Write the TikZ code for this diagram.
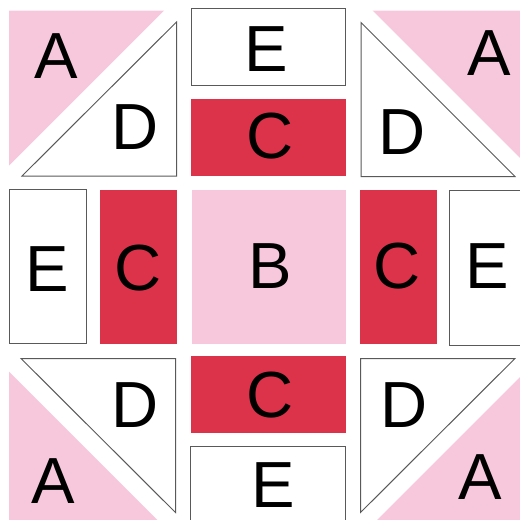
\documentclass[tikz,border=0pt]{standalone}
\usepackage{fontspec}
\setmainfont{Liberation Sans}
\usepackage{tikz}
\definecolor{quiltpink}{RGB}{247,200,220}
\definecolor{quiltred}{RGB}{220,50,74}

\begin{document}
\begin{tikzpicture}[x=0.5pt,y=-0.5pt,font=\fontsize{32.6}{36}\selectfont,
    lbl/.style={inner sep=0pt,text height=23.4pt,text depth=0pt},
    piece/.style={draw=black!65,line width=0.5pt,fill=white}]
  \clip (0,0) rectangle (520,520);
  % A: pink corner triangles
  \fill[quiltpink] (9,10.5) -- (164,10.5) -- (9,165.5) -- cycle;
  \fill[quiltpink] (372.5,10.5) -- (527.5,10.5) -- (527.5,165.5) -- cycle;
  \fill[quiltpink] (9,371.5) -- (9,527) -- (164.5,527) -- cycle;
  \fill[quiltpink] (527,370) -- (527,527) -- (370,527) -- cycle;
  % D: white triangles
  \draw[piece] (176.5,22) -- (176.5,176) -- (22,176) -- cycle;
  \draw[piece] (361,22.5) -- (361,176.5) -- (515,176.5) -- cycle;
  \draw[piece] (21,358.5) -- (175.5,358.5) -- (175.5,512.5) -- cycle;
  \draw[piece] (360.5,358.5) -- (515,358.5) -- (360.5,512.5) -- cycle;
  % E: white bars
  \draw[piece] (191.5,8) rectangle (345.5,85);
  \draw[piece] (9,189.5) rectangle (86.5,343.5);
  \draw[piece] (449.5,190.5) rectangle (527,345);
  \draw[piece] (190.5,446.5) rectangle (345,523);
  % C: red bars, B: pink centre
  \fill[quiltred] (191,99) rectangle (345.5,175.5);
  \fill[quiltred] (100,189.5) rectangle (177,344);
  \fill[quiltred] (359.5,189.5) rectangle (436.5,344);
  \fill[quiltred] (191,355.5) rectangle (345.5,432.5);
  \fill[quiltpink] (191.5,189.5) rectangle (345.5,344);

  \node[lbl] (aTL) at (56,55) {A};
  \node[lbl] (aTR) at (489,52.5) {A};
  \node[lbl] (aBL) at (53.5,480.5) {A};
  \node[lbl] (aBR) at (480.5,476.5) {A};
  \node[lbl] (dTL) at (135,126.5) {D};
  \node[lbl] (dTR) at (402,131.5) {D};
  \node[lbl] (dBL) at (135,404) {D};
  \node[lbl] (dBR) at (404.5,404) {D};
  \node[lbl] (eT) at (266,48.5) {E};
  \node[lbl] (eL) at (47.5,268) {E};
  \node[lbl] (eR) at (487.5,265.5) {E};
  \node[lbl] (eB) at (273,484.5) {E};
  \node[lbl] (cT) at (270,135.5) {C};
  \node[lbl] (cL) at (138.5,267.5) {C};
  \node[lbl] (cR) at (397.5,265.5) {C};
  \node[lbl] (cB) at (270,394.5) {C};
  \node[lbl] (b) at (270,265) {B};
\end{tikzpicture}
\end{document}
